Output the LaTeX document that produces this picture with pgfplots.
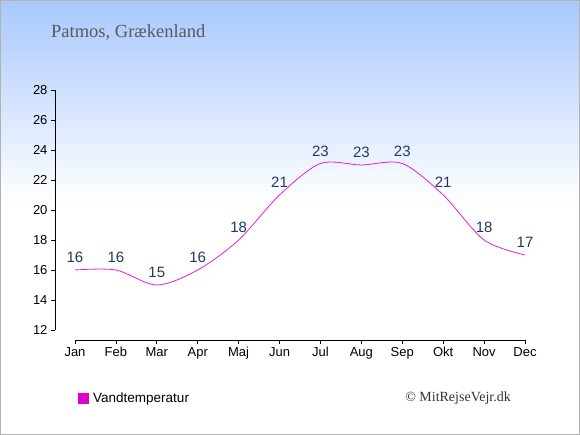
\documentclass[border=0pt]{standalone}
\usepackage{pgfplots}
\pgfplotsset{compat=1.18}
\usepackage{fontspec}
\setmainfont{Liberation Serif}
\setsansfont{Liberation Sans}
\definecolor{linecol}{HTML}{E020E0}
\definecolor{legcol}{HTML}{DD00CC}
\definecolor{labcol}{HTML}{233A5E}
\definecolor{topblue}{HTML}{A8C8FE}
\begin{document}
\begin{tikzpicture}
\useasboundingbox (0pt,0pt) rectangle (580pt,435pt);
\fill[white] (0pt,0pt) rectangle (580pt,435pt);
\shade[top color=topblue, bottom color=white] (0pt,232pt) rectangle (580pt,435pt);
\draw[black!30, line width=1pt] (0.5pt,0.5pt) rectangle (579.5pt,434.5pt);
\node[anchor=base west, inner sep=0pt, text=black!65, font=\fontsize{18.5}{21}\selectfont] at (51pt,397pt) {Patmos, Grækenland};
\node[anchor=base east, inner sep=0pt, text=black!80, font=\fontsize{14}{16}\selectfont] at (511pt,33pt) {© MitRejseVejr.dk};
\begin{axis}[
  at={(75pt,105pt)}, anchor=south west, scale only axis,
  width=450pt, height=240pt,
  xmin=0, xmax=11, ymin=12, ymax=28,
  axis x line=bottom, axis y line=left,
  axis x line shift=10pt, axis y line shift=20pt,
  axis line style={-, black, line width=0.8pt},
  xtick={0,...,11},
  xticklabels={Jan,Feb,Mar,Apr,Maj,Jun,Jul,Aug,Sep,Okt,Nov,Dec},
  ytick={12,14,...,28},
  tick align=outside, major tick length=4pt,
  tick style={black, line width=0.8pt},
  ticklabel style={font=\sffamily\fontsize{13}{15}\selectfont, text=black},
  /pgf/number format/assume math mode=true,
  clip=false,
  legend style={at={(0.0,-0.283)}, anchor=west, draw=none, fill=none,
    font=\sffamily\fontsize{13.5}{15}\selectfont,
    /tikz/every odd column/.append style={column sep=3pt}},
  legend cell align=left,
]
\addplot[color=linecol, line width=0.8pt, smooth, tension=0.5,
  nodes near coords, point meta=explicit symbolic,
  every node near coord/.style={text=labcol, font=\sffamily\fontsize{15}{17}\selectfont, anchor=south, yshift=3.5pt},
  forget plot]
coordinates {
 (0,16) [16]
 (1,16) [16]
 (2,15) [15]
 (3,16) [16]
 (4,18) [18]
 (5,21) [21]
 (6,23.1) [23]
 (7,23.0) [23]
 (8,23.1) [23]
 (9,21) [21]
 (10,18) [18]
 (11,17) [17]
};
\addlegendimage{only marks, mark=square*, mark size=5pt, mark options={fill=legcol, draw=legcol}}
\addlegendentry{Vandtemperatur}
\end{axis}
\end{tikzpicture}
\end{document}
